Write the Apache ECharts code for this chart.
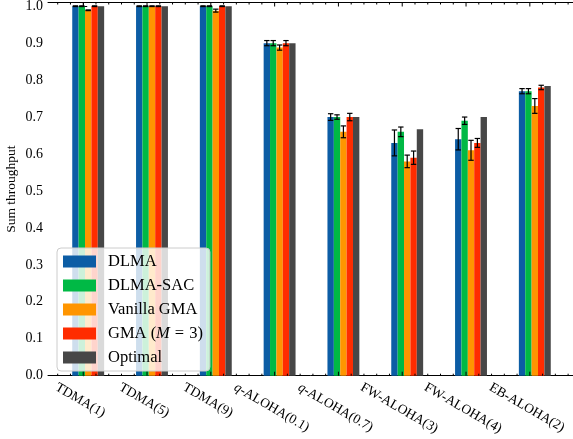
<!DOCTYPE html>
<html>
<head>
<meta charset="utf-8">
<script src="https://cdn.jsdelivr.net/npm/echarts@6/dist/echarts.min.js"></script>
<style>
html, body { margin: 0; padding: 0; background: #fff; }
#chart { width: 573px; height: 439px; }
</style>
</head>
<body>
<div id="chart"></div>
<script>
// Scenario names along the x axis
const categories = ['TDMA(1)', 'TDMA(5)', 'TDMA(9)', 'q-ALOHA(0.1)', 'q-ALOHA(0.7)', 'FW-ALOHA(3)', 'FW-ALOHA(4)', 'EB-ALOHA(2)'];

// Sum throughput per scenario, with error half-widths
const dlma       = [1.00, 1.00, 1.00, 0.900, 0.700, 0.630, 0.640, 0.770];
const dlmaErr    = [0.001, 0.001, 0.001, 0.007, 0.009, 0.035, 0.029, 0.007];
const dlmaSac    = [1.00, 1.00, 1.00, 0.900, 0.700, 0.660, 0.690, 0.770];
const dlmaSacErr = [0.001, 0.001, 0.001, 0.007, 0.006, 0.013, 0.010, 0.007];
const vanilla    = [0.989, 1.00, 0.988, 0.888, 0.660, 0.580, 0.610, 0.730];
const vanillaErr = [0.001, 0.001, 0.004, 0.007, 0.016, 0.017, 0.027, 0.020];
const gma        = [1.00, 1.00, 1.00, 0.900, 0.700, 0.590, 0.630, 0.780];
const gmaErr     = [0.001, 0.001, 0.001, 0.007, 0.010, 0.018, 0.012, 0.006];
const optimal    = [1.00, 1.00, 1.00, 0.900, 0.700, 0.667, 0.700, 0.784];

// Y axis tick values
const yTicks = [0.0, 0.1, 0.2, 0.3, 0.4, 0.5, 0.6, 0.7, 0.8, 0.9, 1.0];

const FONT = '"Liberation Serif", "Times New Roman", serif';
const X_MIN = -0.552, X_MAX = 7.70;
const Y_MAX = 1.01;
const BAR_W = 0.1;
const GROUP_SHIFT = 0.078;

const methods = [
  { name: 'DLMA',        values: dlma,    err: dlmaErr,    color: '#0C5DA5' },
  { name: 'DLMA-SAC',    values: dlmaSac, err: dlmaSacErr, color: '#00B945' },
  { name: 'Vanilla GMA', values: vanilla, err: vanillaErr, color: '#FF9500' },
  { name: 'GMA (M = 3)', values: gma,     err: gmaErr,     color: '#FF2C00' },
  { name: 'Optimal',     values: optimal, err: null,       color: '#474747' }
];

function groupRenderer(slot) {
  return function (params, api) {
    const i = api.value(0), v = api.value(1), e = api.value(2);
    const xc = i + GROUP_SHIFT + (slot - 2) * BAR_W;
    const tl = api.coord([xc - BAR_W / 2, v]);
    const br = api.coord([xc + BAR_W / 2, 0]);
    const children = [{
      type: 'rect',
      shape: { x: tl[0], y: tl[1], width: br[0] - tl[0], height: br[1] - tl[1] },
      style: { fill: api.visual('color') }
    }];
    if (isFinite(e) && e !== null) {
      const hi = api.coord([xc, v + e]);
      const lo = api.coord([xc, v - e]);
      const cap = 2.7;
      const st = { stroke: '#000', lineWidth: 1.2 };
      children.push(
        { type: 'line', shape: { x1: hi[0], y1: hi[1], x2: lo[0], y2: lo[1] }, style: st },
        { type: 'line', shape: { x1: hi[0] - cap, y1: hi[1], x2: hi[0] + cap, y2: hi[1] }, style: st },
        { type: 'line', shape: { x1: lo[0] - cap, y1: lo[1], x2: lo[0] + cap, y2: lo[1] }, style: st }
      );
    }
    return { type: 'group', children: children };
  };
}

const series = methods.map(function (m, slot) {
  return {
    name: m.name,
    type: 'custom',
    xAxisIndex: 0,
    yAxisIndex: 0,
    itemStyle: { color: m.color },
    dimensions: ['x', 'y', 'err'],
    encode: { x: 0, y: 1 },
    renderItem: groupRenderer(slot),
    data: m.values.map(function (v, i) { return m.err ? [i, v, m.err[i]] : [i, v, NaN]; }),
    z: 2
  };
});

// Inward tick marks on the bottom and top spines (majors at each scenario, minors every 0.2)
const xTickMarks = [];
for (let k = -2; k <= 38; k++) {
  const x = k / 5;
  if (x > X_MIN && x < X_MAX) xTickMarks.push([x, 0, k % 5 === 0 ? 1 : 0]);
}
series.push({
  type: 'custom',
  silent: true,
  xAxisIndex: 0,
  yAxisIndex: 0,
  encode: { x: 0, y: 1 },
  data: xTickMarks,
  z: 5,
  renderItem: function (params, api) {
    const x = api.value(0);
    const len = api.value(2) === 1 ? 4 : 2;
    const b = api.coord([x, 0]);
    const t = api.coord([x, Y_MAX]);
    const st = { stroke: '#000', lineWidth: 1 };
    return {
      type: 'group', children: [
        { type: 'line', shape: { x1: b[0], y1: b[1], x2: b[0], y2: b[1] - len }, style: st },
        { type: 'line', shape: { x1: t[0], y1: t[1], x2: t[0], y2: t[1] + len }, style: st }
      ]
    };
  }
});

// Rotated scenario labels, centred under each tick
const measureCtx = document.createElement('canvas').getContext('2d');
const LABEL_SIZE = 13.5;
const ROT = Math.PI / 6;
function labelParts(name) {
  if (name.charAt(0) === 'q') return [['i', 'q'], ['n', name.slice(1)]];
  return [['n', name]];
}
function labelWidth(name) {
  let w = 0;
  labelParts(name).forEach(function (p) {
    measureCtx.font = (p[0] === 'i' ? 'italic ' : '') + LABEL_SIZE + 'px ' + FONT;
    w += measureCtx.measureText(p[1]).width;
  });
  return w;
}
series.push({
  type: 'custom',
  silent: true,
  xAxisIndex: 0,
  yAxisIndex: 0,
  encode: { x: 0, y: 1 },
  clip: false,
  data: categories.map(function (c, i) { return [i, 0]; }),
  z: 5,
  renderItem: function (params, api) {
    const i = api.value(0);
    const name = categories[i];
    const p = api.coord([i, 0]);
    const L = labelWidth(name);
    const h = LABEL_SIZE;
    const boxH = L * Math.sin(ROT) + h * Math.cos(ROT);
    const text = labelParts(name).map(function (q) { return '{' + q[0] + '|' + q[1] + '}'; }).join('');
    return {
      type: 'text',
      x: p[0] - 3,
      y: p[1] + 5 + boxH / 2,
      rotation: -ROT,
      style: {
        text: text,
        x: 0, y: 0,
        align: 'center',
        verticalAlign: 'middle',
        fill: '#000',
        rich: {
          n: { fontFamily: FONT, fontSize: LABEL_SIZE, fill: '#000' },
          i: { fontFamily: FONT, fontSize: LABEL_SIZE, fontStyle: 'italic', fill: '#000' }
        }
      }
    };
  }
});

const chart = echarts.init(document.getElementById('chart'), null, { renderer: 'canvas' });

const yAxisBase = {
  type: 'value',
  min: 0,
  max: Y_MAX,
  interval: 0.1,
  splitLine: { show: false },
  axisLine: { show: true, lineStyle: { color: '#000', width: 1 } },
  axisTick: { show: true, inside: true, length: 4, lineStyle: { color: '#000', width: 1 } },
  minorTick: { show: true, splitNumber: 5, length: 2, lineStyle: { color: '#000', width: 1 } },
  minorSplitLine: { show: false }
};

chart.setOption({
  animation: false,
  backgroundColor: '#fff',
  textStyle: { fontFamily: FONT },
  grid: { left: 48, right: -1.5, top: 2.5, bottom: 63.3, outerBoundsMode: 'none', containLabel: false },
  xAxis: [
    {
      type: 'value', position: 'bottom', min: X_MIN, max: X_MAX,
      splitLine: { show: false },
      axisLine: { show: true, onZero: false, lineStyle: { color: '#000', width: 1 } },
      axisTick: { show: false }, axisLabel: { show: false }
    },
    {
      type: 'value', position: 'top', min: X_MIN, max: X_MAX,
      splitLine: { show: false },
      axisLine: { show: true, onZero: false, lineStyle: { color: '#000', width: 1 } },
      axisTick: { show: false }, axisLabel: { show: false }
    }
  ],
  yAxis: [
    Object.assign({}, yAxisBase, {
      position: 'left',
      name: 'Sum throughput',
      nameLocation: 'middle',
      nameGap: 30,
      nameMoveOverlap: false,
      nameTextStyle: { fontFamily: FONT, fontSize: 13.5, color: '#000' },
      axisLabel: {
        show: true, margin: 5, color: '#000', fontFamily: FONT, fontSize: 14,
        showMaxLabel: false,
        formatter: function (v) {
          const t = yTicks.find(function (k) { return Math.abs(k - v) < 1e-6; });
          return t === undefined ? '' : t.toFixed(1);
        }
      }
    }),
    Object.assign({}, yAxisBase, {
      position: 'right',
      axisLabel: { show: false }
    })
  ],
  legend: {
    data: methods.map(function (m) { return m.name; }),
    orient: 'vertical',
    left: 57,
    top: 248,
    icon: 'rect',
    itemWidth: 33,
    itemHeight: 12,
    itemGap: 7,
    padding: [5, 7, 5, 6],
    backgroundColor: 'rgba(255,255,255,0.8)',
    borderColor: '#cccccc',
    borderWidth: 1,
    borderRadius: 4,
    selectedMode: false,
    formatter: function (name) {
      if (name === 'GMA (M = 3)') return '{t|GMA (}{m|M}{e|=}{t|3)}';
      return '{t|' + name + '}';
    },
    textStyle: {
      padding: [0, 0, 0, 7],
      lineHeight: 16,
      rich: {
        t: { fontFamily: FONT, fontSize: 16.5, color: '#000', lineHeight: 16 },
        m: { fontFamily: FONT, fontSize: 16.5, color: '#000', fontStyle: 'italic', lineHeight: 16 },
        e: { fontFamily: FONT, fontSize: 16.5, color: '#000', lineHeight: 16, padding: [0, 5, 0, 5] }
      }
    }
  },
  series: series
});
</script>
</body>
</html>
